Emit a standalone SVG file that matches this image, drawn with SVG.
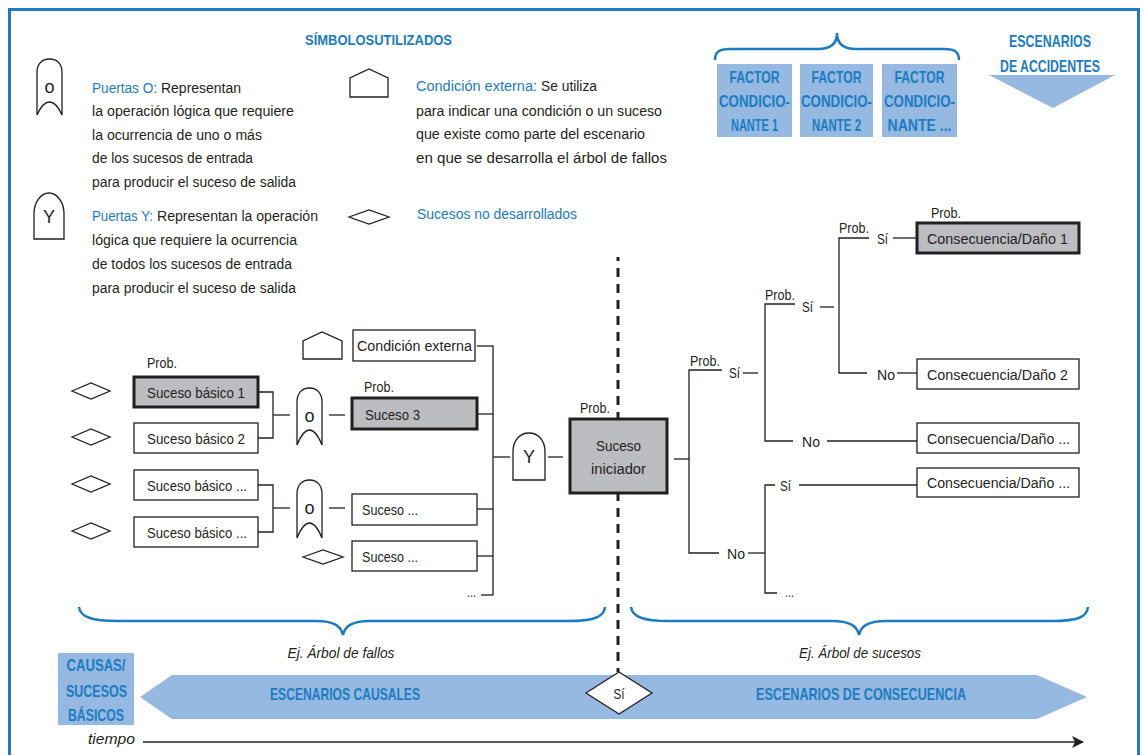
<svg xmlns="http://www.w3.org/2000/svg" width="1144" height="755" viewBox="0 0 1144 755">
  <defs>
    <style>
      .t { font-family: "Liberation Sans", Arial, sans-serif; font-size: 15.5px; fill: #231f20; }
      .bl { fill: #1b7cc3; }
      .hb { font-family: "Liberation Sans", Arial, sans-serif; font-weight: bold; fill: #1b7cc3; }
      .it { font-family: "Liberation Sans", Arial, sans-serif; font-style: italic; font-size: 15px; fill: #231f20; }
      .box { fill: #ffffff; stroke: #231f20; stroke-width: 1.3; }
      .hot { fill: #bcbdc0; stroke: #231f20; stroke-width: 3; }
      .sym { fill: #ffffff; stroke: #231f20; stroke-width: 1.3; }
      .ln { fill: none; stroke: #231f20; stroke-width: 1.3; }
      .brace { fill: none; stroke: #1b7cc3; stroke-width: 2.5; }
      .band { fill: #95b9e0; }
      .gl { font-family: "Liberation Sans", Arial, sans-serif; font-size: 18px; fill: #231f20; text-anchor: middle; }
    </style>
    <marker id="tip" viewBox="0 0 12 12" refX="11" refY="6" markerWidth="12" markerHeight="12" markerUnits="userSpaceOnUse" orient="auto">
      <path d="M0,0 L12,6 L0,12 L3,6 Z" fill="#231f20"/>
    </marker>
  </defs>

  <!-- frame -->
  <rect x="9.5" y="9.5" width="1129" height="770" fill="#ffffff" stroke="#1b7cc3" stroke-width="3"/>

  <!-- legend -->
  <g id="legend">
    <text class="hb" x="305" y="45" font-size="15" textLength="147" lengthAdjust="spacingAndGlyphs">SÍMBOLOSUTILIZADOS</text>

    <g id="legend-or">
      <path class="sym" d="M37,115 L37,72 C37,64 42,59 49.5,59 C57,59 62,64 62,72 L62,115 C58,106 54,102 49.5,102 C45,102 41,106 37,115 Z"/>
      <text class="gl" x="49.5" y="93">o</text>
      <text class="t bl" x="92" y="93" textLength="65" lengthAdjust="spacingAndGlyphs">Puertas O:</text>
      <text class="t" x="161" y="93" textLength="80" lengthAdjust="spacingAndGlyphs">Representan</text>
      <text class="t" x="92" y="116" textLength="202" lengthAdjust="spacingAndGlyphs">la operación lógica que requiere</text>
      <text class="t" x="92" y="140" textLength="170" lengthAdjust="spacingAndGlyphs">la ocurrencia de uno o más</text>
      <text class="t" x="92" y="163" textLength="161" lengthAdjust="spacingAndGlyphs">de los sucesos de entrada</text>
      <text class="t" x="92" y="187" textLength="204" lengthAdjust="spacingAndGlyphs">para producir el suceso de salida</text>
    </g>

    <g id="legend-and">
      <path class="sym" d="M34,239 L34,214 C34,202 41,193 49,193 C57,193 64,202 64,214 L64,239 Z"/>
      <text class="gl" x="49" y="223">Y</text>
      <text class="t bl" x="92" y="221" textLength="61" lengthAdjust="spacingAndGlyphs">Puertas Y:</text>
      <text class="t" x="157" y="221" textLength="161" lengthAdjust="spacingAndGlyphs">Representan la operación</text>
      <text class="t" x="92" y="245" textLength="205" lengthAdjust="spacingAndGlyphs">lógica que requiere la ocurrencia</text>
      <text class="t" x="92" y="269" textLength="200" lengthAdjust="spacingAndGlyphs">de todos los sucesos de entrada</text>
      <text class="t" x="92" y="293" textLength="204" lengthAdjust="spacingAndGlyphs">para producir el suceso de salida</text>
    </g>

    <g id="legend-condition">
      <path class="sym" d="M350,97 L350,78 L369,69 L388,78 L388,97 Z"/>
      <text class="t bl" x="416" y="91" textLength="121" lengthAdjust="spacingAndGlyphs">Condición externa:</text>
      <text class="t" x="541" y="91" textLength="56" lengthAdjust="spacingAndGlyphs">Se utiliza</text>
      <text class="t" x="416" y="116" textLength="246" lengthAdjust="spacingAndGlyphs">para indicar una condición o un suceso</text>
      <text class="t" x="416" y="139" textLength="229" lengthAdjust="spacingAndGlyphs">que existe como parte del escenario</text>
      <text class="t" x="416" y="163" textLength="251" lengthAdjust="spacingAndGlyphs">en que se desarrolla el árbol de fallos</text>
    </g>

    <g id="legend-undeveloped">
      <polygon class="sym" points="349,217 369,210 389,217 369,224"/>
      <text class="t bl" x="417" y="219" textLength="160" lengthAdjust="spacingAndGlyphs">Sucesos no desarrollados</text>
    </g>
  </g>

  <!-- conditioning factors -->
  <g id="factors">
    <path class="brace" d="M715,60 C715,52 719,49 730,49 L818,49 C831,49 837,43 837,33 C837,43 843,49 856,49 L944,49 C955,49 959,52 959,60"/>
    <g id="factor-1">
      <rect class="band" x="717" y="64" width="75" height="73"/>
      <text class="hb" font-size="16.5" text-anchor="middle" x="754.5" y="83" textLength="50" lengthAdjust="spacingAndGlyphs">FACTOR</text>
      <text class="hb" font-size="16.5" text-anchor="middle" x="754.5" y="107" textLength="71" lengthAdjust="spacingAndGlyphs">CONDICIO-</text>
      <text class="hb" font-size="16.5" text-anchor="middle" x="754.5" y="131" textLength="47" lengthAdjust="spacingAndGlyphs">NANTE 1</text>
    </g>
    <g id="factor-2">
      <rect class="band" x="800" y="64" width="73" height="73"/>
      <text class="hb" font-size="16.5" text-anchor="middle" x="836.5" y="83" textLength="50" lengthAdjust="spacingAndGlyphs">FACTOR</text>
      <text class="hb" font-size="16.5" text-anchor="middle" x="836.5" y="107" textLength="71" lengthAdjust="spacingAndGlyphs">CONDICIO-</text>
      <text class="hb" font-size="16.5" text-anchor="middle" x="836.5" y="131" textLength="49" lengthAdjust="spacingAndGlyphs">NANTE 2</text>
    </g>
    <g id="factor-n">
      <rect class="band" x="882" y="64" width="75" height="73"/>
      <text class="hb" font-size="16.5" text-anchor="middle" x="919.5" y="83" textLength="50" lengthAdjust="spacingAndGlyphs">FACTOR</text>
      <text class="hb" font-size="16.5" text-anchor="middle" x="919.5" y="107" textLength="71" lengthAdjust="spacingAndGlyphs">CONDICIO-</text>
      <text class="hb" font-size="16.5" text-anchor="middle" x="919.5" y="131" textLength="64" lengthAdjust="spacingAndGlyphs">NANTE ...</text>
    </g>
  </g>

  <g id="accident-scenarios">
    <text class="hb" font-size="16.5" text-anchor="middle" x="1050" y="47" textLength="82" lengthAdjust="spacingAndGlyphs">ESCENARIOS</text>
    <text class="hb" font-size="16.5" text-anchor="middle" x="1050" y="72" textLength="100" lengthAdjust="spacingAndGlyphs">DE ACCIDENTES</text>
    <polygon class="band" points="989,75 1115,75 1053,108"/>
  </g>

  <!-- connectors -->
  <g id="connectors" class="ln">
    <!-- fault tree -->
    <polyline points="258,392 273,392 273,438 258,438"/>
    <line x1="273" y1="415" x2="290" y2="415"/>
    <line x1="329" y1="415" x2="345" y2="415"/>
    <polyline points="258,485 273,485 273,532 258,532"/>
    <line x1="273" y1="508" x2="290" y2="508"/>
    <line x1="329" y1="508" x2="345" y2="508"/>
    <line x1="477" y1="346" x2="493" y2="346"/>
    <line x1="477" y1="414" x2="493" y2="414"/>
    <line x1="477" y1="509" x2="493" y2="509"/>
    <line x1="477" y1="556" x2="493" y2="556"/>
    <line x1="481" y1="595" x2="493" y2="595"/>
    <line x1="493" y1="345.5" x2="493" y2="595.5"/>
    <line x1="493" y1="457" x2="510" y2="457"/>
    <line x1="548" y1="457" x2="563" y2="457"/>
    <!-- event tree -->
    <line x1="674" y1="459" x2="689" y2="459"/>
    <polyline points="722,370 689,370 689,553 719,553"/>
    <line x1="743" y1="373" x2="758" y2="373"/>
    <polyline points="795,304 765,304 765,441 793,441"/>
    <line x1="820" y1="307" x2="834" y2="307"/>
    <polyline points="869,238 839,238 839,373 867,373"/>
    <line x1="893" y1="238" x2="917" y2="238"/>
    <line x1="897" y1="373" x2="917" y2="373"/>
    <line x1="827" y1="441" x2="917" y2="441"/>
    <line x1="748" y1="553" x2="765" y2="553"/>
    <polyline points="775,485 765,485 765,593 777,593"/>
    <line x1="799" y1="485" x2="917" y2="485"/>
  </g>

  <!-- boundary between causes and consequences -->
  <line id="divider" x1="618" y1="257" x2="618" y2="672" stroke="#231f20" stroke-width="3" stroke-dasharray="9 7" stroke-dashoffset="5"/>

  <!-- fault tree nodes -->
  <g id="undeveloped-1"><polygon class="sym" points="72,391 91,383 110,391 91,399"/></g>
  <g id="undeveloped-2"><polygon class="sym" points="72,437 91,429 110,437 91,445"/></g>
  <g id="undeveloped-3"><polygon class="sym" points="72,484 91,476 110,484 91,492"/></g>
  <g id="undeveloped-4"><polygon class="sym" points="72,531 91,523 110,531 91,539"/></g>

  <g id="basic-1">
    <text class="t" x="147" y="368" textLength="30" lengthAdjust="spacingAndGlyphs">Prob.</text>
    <rect class="hot" x="134" y="377" width="124" height="30"/>
    <text class="t" x="147" y="397.5" textLength="98" lengthAdjust="spacingAndGlyphs">Suceso básico 1</text>
  </g>
  <g id="basic-2">
    <rect class="box" x="134" y="423" width="124" height="30"/>
    <text class="t" x="147" y="443.5" textLength="98" lengthAdjust="spacingAndGlyphs">Suceso básico 2</text>
  </g>
  <g id="basic-3">
    <rect class="box" x="134" y="470" width="124" height="30"/>
    <text class="t" x="147" y="490.5" textLength="100" lengthAdjust="spacingAndGlyphs">Suceso básico ...</text>
  </g>
  <g id="basic-4">
    <rect class="box" x="134" y="517" width="124" height="30"/>
    <text class="t" x="147" y="537.5" textLength="100" lengthAdjust="spacingAndGlyphs">Suceso básico ...</text>
  </g>

  <g id="or-gate-1">
    <path class="sym" d="M297,445 L297,402 C297,393 302,388 309.5,388 C317,388 322,393 322,402 L322,445 C318,435 314,430 309.5,430 C305,430 301,435 297,445 Z"/>
    <text class="gl" x="309.5" y="422">o</text>
  </g>
  <g id="or-gate-2">
    <path class="sym" d="M297,538 L297,494 C297,485 302,480 309.5,480 C317,480 322,485 322,494 L322,538 C318,528 314,523 309.5,523 C305,523 301,528 297,538 Z"/>
    <text class="gl" x="309.5" y="514">o</text>
  </g>

  <g id="external-condition">
    <path class="sym" d="M303,359 L303,341 L322,332 L342,341 L342,359 Z"/>
    <rect class="box" x="353" y="330" width="122" height="31"/>
    <text class="t" x="357" y="351" textLength="115" lengthAdjust="spacingAndGlyphs">Condición externa</text>
  </g>
  <g id="event-3">
    <text class="t" x="364" y="392" textLength="30" lengthAdjust="spacingAndGlyphs">Prob.</text>
    <rect class="hot" x="352" y="398" width="125" height="31"/>
    <text class="t" x="365" y="419.5" textLength="55" lengthAdjust="spacingAndGlyphs">Suceso 3</text>
  </g>
  <g id="event-a">
    <rect class="box" x="352" y="494" width="125" height="31"/>
    <text class="t" x="362" y="515" textLength="56" lengthAdjust="spacingAndGlyphs">Suceso ...</text>
  </g>
  <g id="event-b">
    <polygon class="sym" points="303,557 323,550 343,557 323,564"/>
    <rect class="box" x="352" y="541" width="125" height="30"/>
    <text class="t" x="362" y="561.5" textLength="56" lengthAdjust="spacingAndGlyphs">Suceso ...</text>
  </g>
  <g id="event-more">
    <text class="t" x="467" y="597" textLength="9" lengthAdjust="spacingAndGlyphs">...</text>
  </g>

  <g id="and-gate">
    <path class="sym" d="M513,480 L513,452 C513,440 520,433 529,433 C538,433 545,440 545,452 L545,480 Z"/>
    <text class="gl" x="529" y="463">Y</text>
  </g>

  <g id="initiating-event">
    <text class="t" x="580" y="413" textLength="30" lengthAdjust="spacingAndGlyphs">Prob.</text>
    <rect class="hot" x="570" y="419" width="97" height="74"/>
    <text class="t" x="618.5" y="450.5" text-anchor="middle" textLength="45" lengthAdjust="spacingAndGlyphs">Suceso</text>
    <text class="t" x="618.5" y="473.5" text-anchor="middle" textLength="55" lengthAdjust="spacingAndGlyphs">iniciador</text>
  </g>

  <!-- event tree branch labels -->
  <g id="branch-labels">
    <text class="t" x="690" y="366" textLength="30" lengthAdjust="spacingAndGlyphs">Prob.</text>
    <text class="t" x="729" y="378" textLength="11" lengthAdjust="spacingAndGlyphs">Sí</text>
    <text class="t" x="765" y="300" textLength="30" lengthAdjust="spacingAndGlyphs">Prob.</text>
    <text class="t" x="802" y="312" textLength="11" lengthAdjust="spacingAndGlyphs">Sí</text>
    <text class="t" x="839" y="233" textLength="30" lengthAdjust="spacingAndGlyphs">Prob.</text>
    <text class="t" x="877" y="244" textLength="11" lengthAdjust="spacingAndGlyphs">Sí</text>
    <text class="t" x="877" y="379.5" textLength="18" lengthAdjust="spacingAndGlyphs">No</text>
    <text class="t" x="802" y="446.5" textLength="18" lengthAdjust="spacingAndGlyphs">No</text>
    <text class="t" x="727" y="558.5" textLength="18" lengthAdjust="spacingAndGlyphs">No</text>
    <text class="t" x="780" y="490.5" textLength="11" lengthAdjust="spacingAndGlyphs">Sí</text>
    <text class="t" x="785" y="597" textLength="9" lengthAdjust="spacingAndGlyphs">...</text>
  </g>

  <g id="consequence-1">
    <text class="t" x="931" y="218" textLength="30" lengthAdjust="spacingAndGlyphs">Prob.</text>
    <rect class="hot" x="917" y="223" width="162" height="30"/>
    <text class="t" x="927" y="243.5" textLength="141" lengthAdjust="spacingAndGlyphs">Consecuencia/Daño 1</text>
  </g>
  <g id="consequence-2">
    <rect class="box" x="917" y="359" width="162" height="30"/>
    <text class="t" x="927" y="379.5" textLength="141" lengthAdjust="spacingAndGlyphs">Consecuencia/Daño 2</text>
  </g>
  <g id="consequence-3">
    <rect class="box" x="917" y="423" width="162" height="30"/>
    <text class="t" x="927" y="443.5" textLength="143" lengthAdjust="spacingAndGlyphs">Consecuencia/Daño ...</text>
  </g>
  <g id="consequence-4">
    <rect class="box" x="917" y="468" width="162" height="29"/>
    <text class="t" x="927" y="488" textLength="143" lengthAdjust="spacingAndGlyphs">Consecuencia/Daño ...</text>
  </g>

  <!-- braces and captions -->
  <g id="fault-tree-brace">
    <path class="brace" d="M79,607 C80,617 92,621 118,621 L316,621 C334,621 341,626 343,635 C345,626 352,621 370,621 L568,621 C594,621 604,617 605,607"/>
    <text class="it" x="341" y="658" text-anchor="middle" textLength="107" lengthAdjust="spacingAndGlyphs">Ej.  Árbol de fallos</text>
  </g>
  <g id="event-tree-brace">
    <path class="brace" d="M631,607 C632,617 644,621 668,621 L832,621 C850,621 857,626 859,635 C861,626 868,621 886,621 L1052,621 C1078,621 1087,617 1088,607"/>
    <text class="it" x="860" y="658" text-anchor="middle" textLength="122" lengthAdjust="spacingAndGlyphs">Ej.  Árbol de sucesos</text>
  </g>

  <!-- scenario band -->
  <g id="scenario-band">
    <polygon class="band" points="140,697 172,675 1037,675 1087,697 1037,719 172,719"/>
    <text class="hb" font-size="17" text-anchor="middle" x="345" y="700" textLength="150" lengthAdjust="spacingAndGlyphs">ESCENARIOS CAUSALES</text>
    <text class="hb" font-size="17" text-anchor="middle" x="861" y="700" textLength="210" lengthAdjust="spacingAndGlyphs">ESCENARIOS DE CONSECUENCIA</text>
  </g>
  <g id="causes">
    <rect class="band" x="58" y="653" width="76" height="72"/>
    <text class="hb" font-size="17" text-anchor="middle" x="96" y="671" textLength="59" lengthAdjust="spacingAndGlyphs">CAUSAS/</text>
    <text class="hb" font-size="17" text-anchor="middle" x="96.5" y="697" textLength="61" lengthAdjust="spacingAndGlyphs">SUCESOS</text>
    <text class="hb" font-size="17" text-anchor="middle" x="96" y="721" textLength="56" lengthAdjust="spacingAndGlyphs">BÁSICOS</text>
  </g>
  <g id="yes-node">
    <polygon class="sym" points="586,693 619,672 652,693 619,714"/>
    <text class="t" x="619" y="699" text-anchor="middle" textLength="11" lengthAdjust="spacingAndGlyphs">Sí</text>
  </g>

  <!-- time axis -->
  <g id="time-axis">
    <text class="it" x="88" y="744" textLength="47" lengthAdjust="spacingAndGlyphs">tiempo</text>
    <line x1="143" y1="742" x2="1083" y2="742" stroke="#58595b" stroke-width="2" marker-end="url(#tip)"/>
  </g>
</svg>
